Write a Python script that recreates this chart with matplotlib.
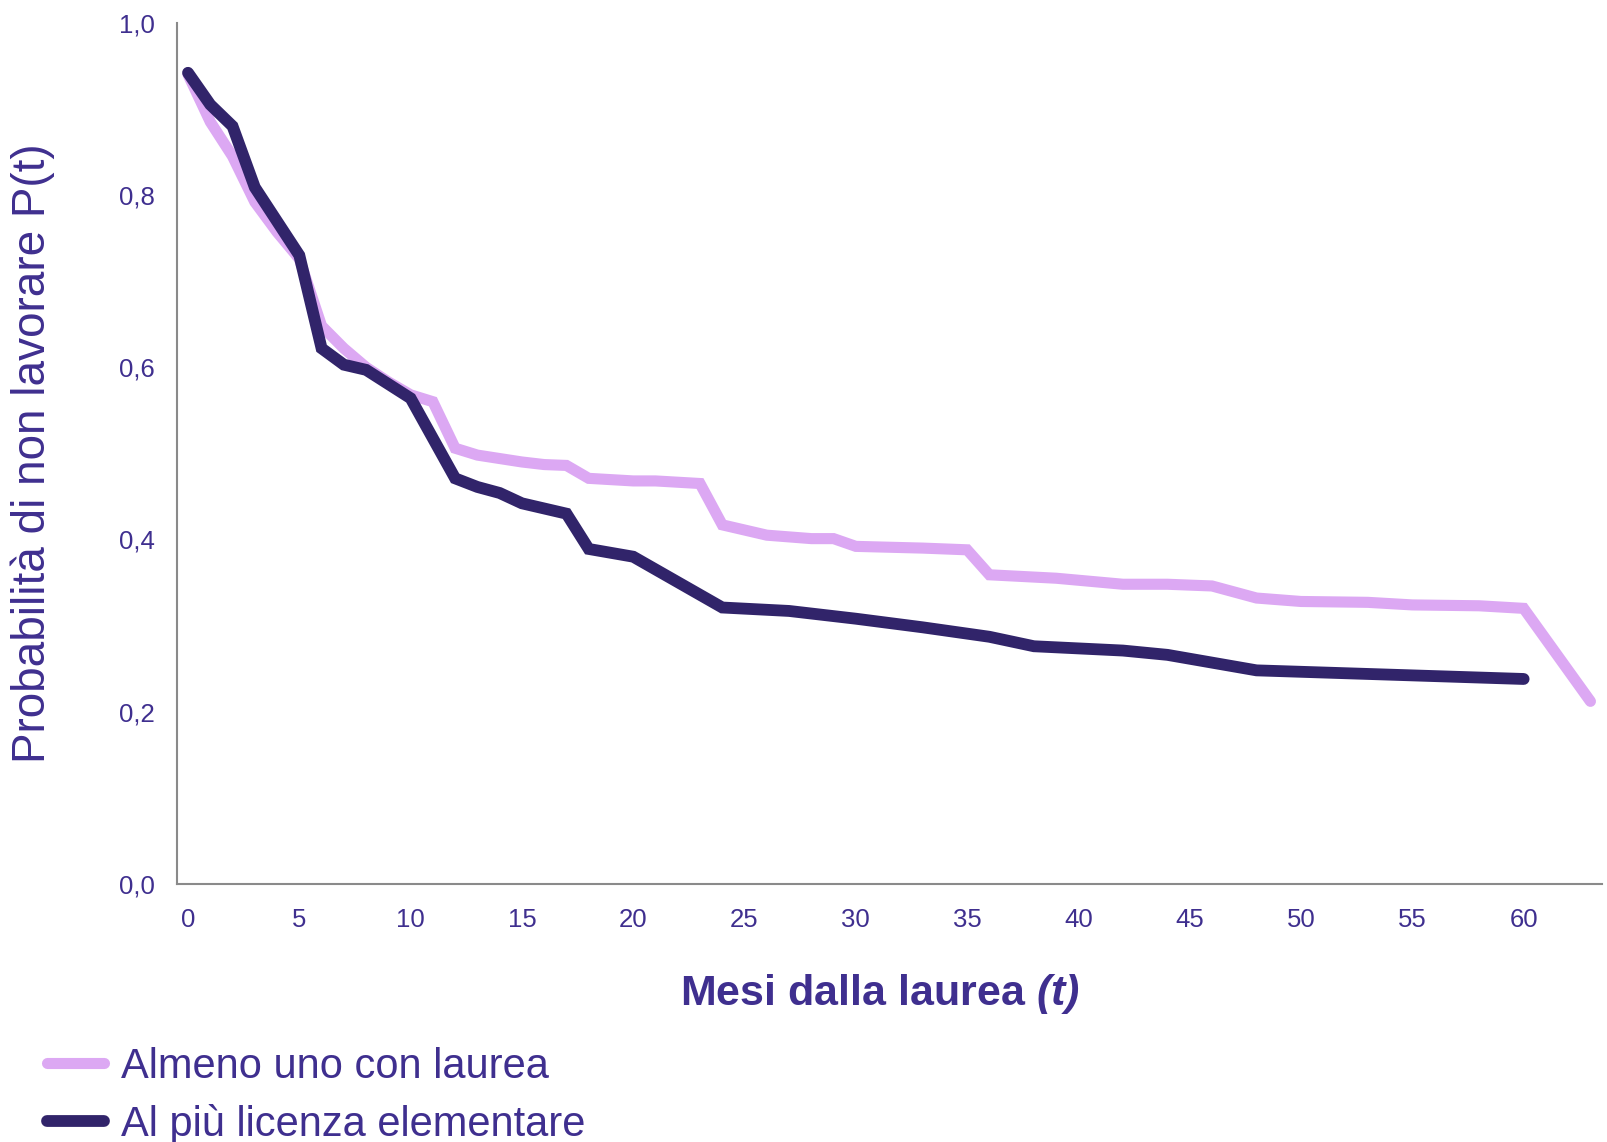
import numpy as np
import matplotlib.pyplot as plt
from matplotlib import font_manager

# mesi e valori
mesi_laurea = [0, 1, 2, 3, 4, 5, 6, 7, 8, 9, 10, 11, 12, 13, 14, 15, 16, 17, 18,
               20, 21, 23, 24, 26, 28, 29, 30, 33, 35, 36, 39, 42, 44, 46, 48,
               50, 53, 55, 58, 60, 63]
p_laurea = [0.940, 0.885, 0.845, 0.792, 0.757, 0.726, 0.648, 0.622, 0.600, 0.583,
            0.568, 0.560, 0.506, 0.498, 0.494, 0.490, 0.487, 0.486, 0.471,
            0.468, 0.468, 0.465, 0.417, 0.405, 0.401, 0.401, 0.392, 0.390, 0.388,
            0.359, 0.355, 0.348, 0.348, 0.346, 0.332, 0.328, 0.327, 0.324, 0.323,
            0.320, 0.212]

mesi_elem = [0, 1, 2, 3, 5, 6, 7, 8, 10, 12, 13, 14, 15, 17, 18, 20, 24, 27, 30,
             33, 36, 38, 42, 44, 48, 60]
p_elem = [0.942, 0.905, 0.880, 0.809, 0.730, 0.622, 0.603, 0.597, 0.564, 0.471,
          0.461, 0.454, 0.442, 0.430, 0.389, 0.380, 0.321, 0.317, 0.308, 0.298,
          0.287, 0.276, 0.271, 0.266, 0.248, 0.238]

xticks = [0, 5, 10, 15, 20, 25, 30, 35, 40, 45, 50, 55, 60]
yticks = [0.0, 0.2, 0.4, 0.6, 0.8, 1.0]

nomi = [f.name for f in font_manager.fontManager.ttflist]
font = 'Liberation Sans Narrow' if 'Liberation Sans Narrow' in nomi else 'Liberation Sans'
plt.rcParams['font.family'] = [font, 'DejaVu Sans']
plt.rcParams['mathtext.fontset'] = 'custom'
plt.rcParams['mathtext.it'] = font + ':italic:bold'
plt.rcParams['mathtext.rm'] = font + ':italic:bold'

viola = '#3f2f8f'
scuro = '#31246a'
chiaro = '#dca8f3'

fig = plt.figure(figsize=(16.08, 11.42), dpi=100)
ax = fig.add_axes([0.110, 0.226, 0.886, 0.754])

ax.plot(mesi_laurea, p_laurea, color=chiaro, lw=8, solid_capstyle='round',
        solid_joinstyle='miter', label='Almeno uno con laurea')
ax.plot(mesi_elem, p_elem, color=scuro, lw=8.5, solid_capstyle='round',
        solid_joinstyle='miter', label='Al più licenza elementare')

ax.set_xlim(-0.5, 63.5)
ax.set_ylim(0, 1.0)
ax.set_xticks(xticks)
ax.set_yticks(yticks)
ax.set_yticklabels([f'{v:.1f}'.replace('.', ',') for v in yticks])
ax.tick_params(length=0, labelsize=18.5, colors=viola)
ax.tick_params(axis='x', pad=17)
ax.tick_params(axis='y', pad=16)

for s in ['top', 'right']:
    ax.spines[s].set_visible(False)
for s in ['left', 'bottom']:
    ax.spines[s].set_color('#8a8a8a')
    ax.spines[s].set_linewidth(1.5)

ax.set_ylabel('Probabilità di non lavorare P(t)', fontsize=33, color=viola, labelpad=46)
fig.text(0.547, 0.130, 'Mesi dalla laurea $(t)$', fontsize=31,
         color=viola, fontweight='bold', ha='center', va='center')

leg = fig.legend(loc='upper left', bbox_to_anchor=(0.006, 0.116), frameon=False,
                 fontsize=30, handlelength=1.37, handletextpad=0.4, labelspacing=0.4,
                 labelcolor=viola)

fig.savefig('out.png', dpi=100)
